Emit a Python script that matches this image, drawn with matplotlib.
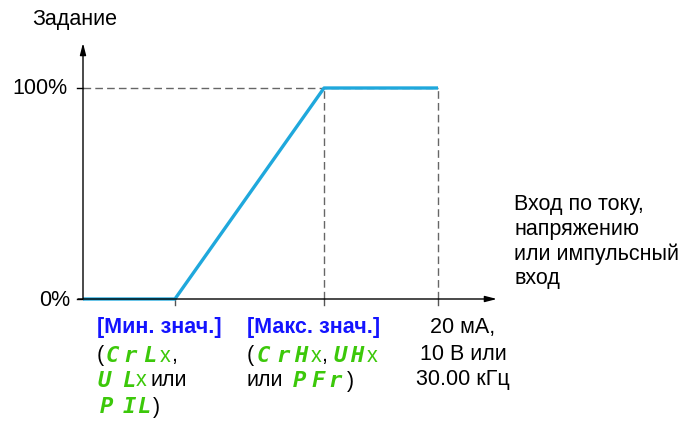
import matplotlib
matplotlib.use('Agg')
import matplotlib.pyplot as plt

plt.rcParams['font.family'] = ['Liberation Sans', 'DejaVu Sans']

# reference curve: input (% of range) vs setpoint (%)
x_pts = [0, 25.9, 67.9, 100]
y_pts = [0, 0, 100, 100]
x_ticks = [25.9, 67.9, 100]
y_labels = ['0%', '100%']

W, H = 680, 422
FS = 15.5
BLUE = '#1414ff'
GREEN = '#3cc80a'
LINE = '#1fa8dc'
DASH = (0, (5.5, 3))

fig = plt.figure(figsize=(W/100, H/100), dpi=100)
ax = fig.add_axes([83/W, (H-299)/H, 355/W, 211/H])
ax.set_xlim(0, 100)
ax.set_ylim(0, 100)
ax.axis('off')

# axes with arrows
ax.annotate('', xy=(116.6, 0), xytext=(-1.4, 0), annotation_clip=False,
            arrowprops=dict(arrowstyle='-|>,head_length=0.7,head_width=0.18',
                            color='k', lw=1, shrinkA=0, shrinkB=0))
ax.annotate('', xy=(0, 121.3), xytext=(0, 0), annotation_clip=False,
            arrowprops=dict(arrowstyle='-|>,head_length=0.7,head_width=0.18',
                            color='k', lw=1, shrinkA=0, shrinkB=0))
# small ticks
for yt in [0, 100]:
    ax.plot([-1.6, 0], [yt, yt], color='k', lw=1, clip_on=False)
for xt in x_ticks:
    ax.plot([xt, xt], [0, -3], color='#555555', lw=1, clip_on=False)

# dashed guides
ax.plot([0, x_pts[3]], [100, 100], ls=DASH, color='#666666', lw=1, clip_on=False)
for xt in x_pts[2:]:
    ax.plot([xt, xt], [0, 100], ls=DASH, color='#666666', lw=1, clip_on=False)

ax.plot(x_pts, y_pts, color=LINE, lw=2.4, clip_on=False, solid_capstyle='butt')

def fx(x):
    return x / W

def fy(y):
    return 1 - y / H

fig.text(fx(32), fy(20), 'Задание', fontsize=FS, va='center', ha='left')
fig.text(fx(67), fy(88), y_labels[1], fontsize=FS, va='center', ha='right')
fig.text(fx(70), fy(300), y_labels[0], fontsize=FS, va='center', ha='right')

right_lines = ['Вход по току,', 'напряжению', 'или импульсный', 'вход']
for i, s in enumerate(right_lines):
    fig.text(fx(514), fy(205 + i * 24.5), s, fontsize=FS, va='center', ha='left')

for i, s in enumerate(['20 мА,', '10 В или', '30.00 кГц']):
    fig.text(fx(463), fy(328 + i * 26), s, fontsize=FS, va='center', ha='center')

def seg(x, y, s, color='k', code=False):
    if code:
        fig.text(fx(x), fy(y), s, fontsize=16, color=color, fontweight='bold',
                 fontstyle='italic', family='DejaVu Sans Mono',
                 va='center', ha='left')
    else:
        fig.text(fx(x), fy(y), s, fontsize=FS, color=color,
                 va='center', ha='left')

# parameter codes (drive display glyphs), placed glyph by glyph
fig.text(fx(97), fy(328), '[Мин. знач.]', fontsize=FS, color=BLUE,
         fontweight='bold', va='center', ha='left')
seg(97, 356, '(')
for ch, xx in [('C', 106), ('r', 123), ('L', 143)]:
    seg(xx, 356, ch, GREEN, True)
seg(160, 356, 'x', GREEN)
seg(171, 356, ',')
for ch, xx in [('U', 98), ('L', 122)]:
    seg(xx, 381, ch, GREEN, True)
seg(136, 381, 'x', GREEN)
seg(151, 381, 'или')
for ch, xx in [('P', 100), ('I', 123), ('L', 137)]:
    seg(xx, 407, ch, GREEN, True)
seg(153, 407, ')')

fig.text(fx(247), fy(328), '[Макс. знач.]', fontsize=FS, color=BLUE,
         fontweight='bold', va='center', ha='left')
seg(247, 356, '(')
for ch, xx in [('C', 257), ('r', 276), ('H', 294)]:
    seg(xx, 356, ch, GREEN, True)
seg(311, 356, 'x', GREEN)
seg(321, 356, ',')
for ch, xx in [('U', 334), ('H', 350)]:
    seg(xx, 356, ch, GREEN, True)
seg(367, 356, 'x', GREEN)
seg(247, 381, 'или')
for ch, xx in [('P', 293), ('F', 311), ('r', 328)]:
    seg(xx, 381, ch, GREEN, True)
seg(347, 381, ')')

fig.savefig('out.png', dpi=100)
